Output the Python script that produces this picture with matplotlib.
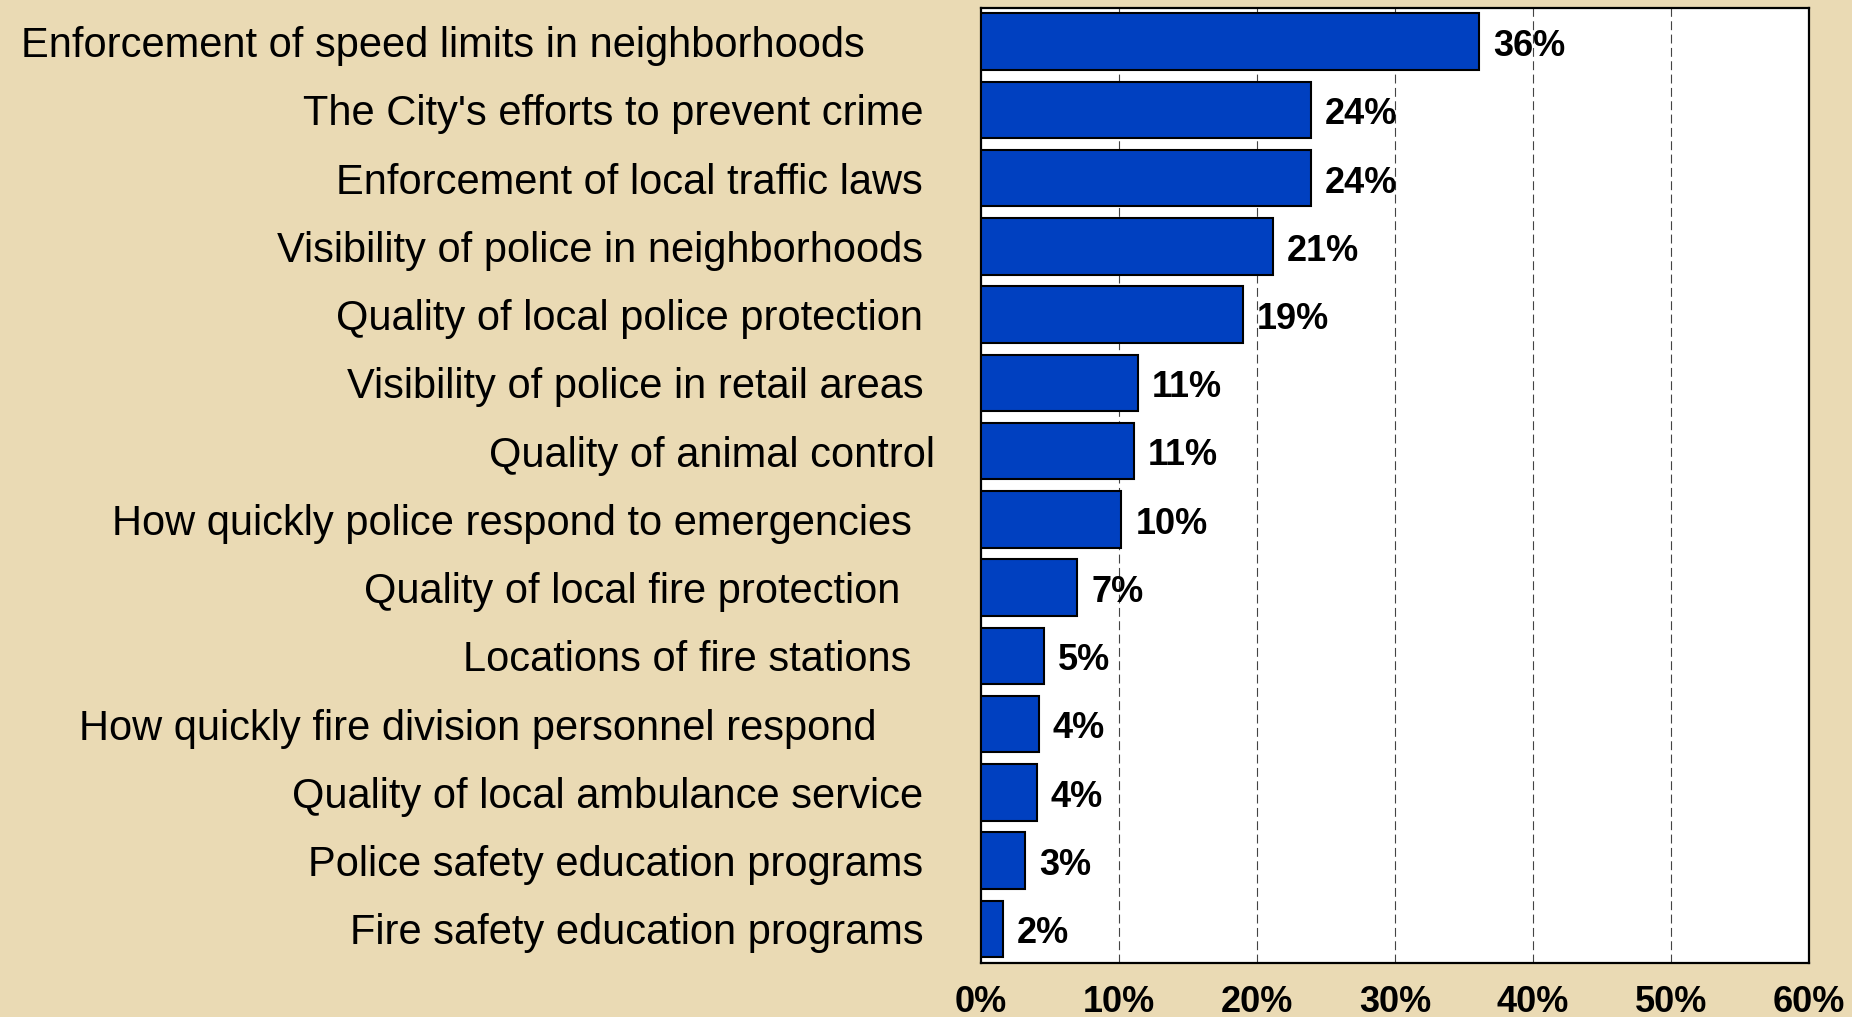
import matplotlib
matplotlib.use("Agg")
import matplotlib.pyplot as plt
import numpy as np

plt.rcParams['font.family'] = ['Liberation Sans', 'DejaVu Sans']

categories = [
    "Enforcement of speed limits in neighborhoods      ",
    "The City's efforts to prevent crime ",
    "Enforcement of local traffic laws ",
    "Visibility of police in neighborhoods ",
    "Quality of local police protection ",
    "Visibility of police in retail areas ",
    "Quality of animal control",
    "How quickly police respond to emergencies  ",
    "Quality of local fire protection   ",
    "Locations of fire stations  ",
    "How quickly fire division personnel respond     ",
    "Quality of local ambulance service ",
    "Police safety education programs ",
    "Fire safety education programs ",
]
values = [36.1, 23.9, 23.9, 21.2, 19.0, 11.4, 11.1, 10.2, 7.0, 4.6, 4.2, 4.05, 3.2, 1.6]
value_labels = ["36%", "24%", "24%", "21%", "19%", "11%", "11%", "10%", "7%", "5%", "4%", "4%", "3%", "2%"]
xticks = [0, 10, 20, 30, 40, 50, 60]
xtick_labels = ["0%", "10%", "20%", "30%", "40%", "50%", "60%"]

bg = "#EADAB4"
fig = plt.figure(figsize=(18.52, 10.17), dpi=100, facecolor=bg)
ax = fig.add_axes([0.5295, 0.0531, 0.9768 - 0.5295, 0.9926 - 0.0531])
ax.set_facecolor("white")

y = np.arange(len(categories))
ax.barh(y, values, height=0.83, color="#0040C0", edgecolor="black", linewidth=1.5, zorder=3)

for yi, v, lab in zip(y, values, value_labels):
    ax.annotate(lab, xy=(v, yi), xytext=(10, -3.5), textcoords="offset points",
                ha="left", va="center", fontsize=26, fontweight="bold", color="black", zorder=4)

ax.set_xlim(0, 60)
ax.set_ylim(len(categories) - 0.5, -0.5)
ax.set_xticks(xticks)
ax.set_xticklabels(xtick_labels, fontsize=26, fontweight="bold")
ax.set_yticks(y)
ax.set_yticklabels(categories, fontsize=30)
ax.tick_params(axis="x", length=0, pad=15.5)
ax.tick_params(axis="y", length=0, pad=33)

for gx in xticks[1:-1]:
    ax.axvline(gx, color="#444444", linewidth=0.8, dashes=(8, 4), zorder=1)

for s in ax.spines.values():
    s.set_linewidth(1.6)
    s.set_color("black")

fig.savefig("out.png", dpi=100, facecolor=bg)
